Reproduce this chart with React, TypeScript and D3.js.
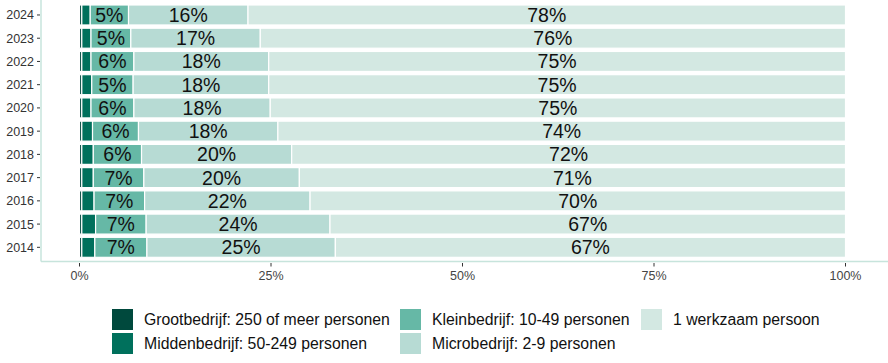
import React from "react";
import * as d3 from "d3";

// bedrijfsgrootte per jaar, aandeel in %
const years = ["2024", "2023", "2022", "2021", "2020", "2019", "2018", "2017", "2016", "2015", "2014"];
const groot = [0.3, 0.3, 0.3, 0.3, 0.3, 0.3, 0.3, 0.3, 0.3, 0.3, 0.3];
const midden = [1.1, 1.2, 1.2, 1.3, 1.2, 1.4, 1.5, 1.5, 1.6, 1.8, 1.7];
const klein = [5.0, 5.2, 5.6, 5.4, 5.6, 6.0, 6.3, 6.6, 6.6, 6.6, 6.8];
const micro = [15.6, 16.9, 17.6, 17.7, 17.8, 18.2, 19.6, 20.3, 21.6, 24.0, 24.6];
const single = [78.0, 76.4, 75.3, 75.3, 75.1, 74.1, 72.3, 71.3, 69.9, 67.3, 66.6];

const keys = ["groot", "midden", "klein", "micro", "single"];
const legendLabels = [
  "Grootbedrijf: 250 of meer personen",
  "Middenbedrijf: 50-249 personen",
  "Kleinbedrijf: 10-49 personen",
  "Microbedrijf: 2-9 personen",
  "1 werkzaam persoon",
];
const colors = ["#00493d", "#00705c", "#66b8a6", "#b7dbd4", "#d3e8e2"];
const labelled = ["klein", "micro", "single"];
const xTicks = [0, 25, 50, 75, 100];

const W = 888;
const H = 363;
const font = "'Liberation Sans', Arial, sans-serif";

export default function App() {
  const rows = years.map((y, i) => ({
    year: y,
    groot: groot[i],
    midden: midden[i],
    klein: klein[i],
    micro: micro[i],
    single: single[i],
  }));

  const series = d3.stack<any>().keys(keys)(rows);

  const x = d3.scaleLinear().domain([0, 100]).range([79.5, 845.5]);
  const y = d3
    .scaleBand<string>()
    .domain(years)
    .range([0.8, 261.5])
    .paddingInner(0.14)
    .paddingOuter(0.18);

  const color = d3.scaleOrdinal<string, string>().domain(keys).range(colors);

  const axisY = 261.5;
  const axisX = 41;

  // legend: column-major, 2 rows
  const legendCols = [112, 400, 641];
  const legendRows = [309, 333];

  return (
    <svg
      width={W}
      height={H}
      style={{ position: "absolute", left: 0, top: 0, background: "#fff" }}
    >
      {/* bars */}
      {series.map((s) => (
        <g key={s.key} fill={color(s.key)}>
          {s.map((d: any) => (
            <rect
              key={d.data.year}
              x={x(d[0])}
              y={y(d.data.year)}
              width={x(d[1]) - x(d[0])}
              height={y.bandwidth()}
              stroke="#fff"
              strokeWidth={1.2}
            />
          ))}
        </g>
      ))}

      {/* labels */}
      {series
        .filter((s) => labelled.includes(s.key))
        .map((s) => (
          <g key={"l" + s.key}>
            {s.map((d: any) => (
              <text
                key={d.data.year}
                x={x((d[0] + d[1]) / 2)}
                y={(y(d.data.year) as number) + y.bandwidth() / 2}
                dy="0.36em"
                textAnchor="middle"
                fontFamily={font}
                fontSize={19.5}
                fill="#111"
              >
                {Math.round(d[1] - d[0] + 1e-6) + "%"}
              </text>
            ))}
          </g>
        ))}

      {/* axes lines */}
      <line x1={axisX} x2={axisX} y1={0} y2={axisY} stroke="#c7e4dc" strokeWidth={1.5} />
      <line x1={axisX} x2={W} y1={axisY} y2={axisY} stroke="#c7e4dc" strokeWidth={1.5} />

      {/* y axis */}
      {years.map((yr) => {
        const cy = (y(yr) as number) + y.bandwidth() / 2;
        return (
          <g key={"y" + yr}>
            <line x1={37} x2={40} y1={cy} y2={cy} stroke="#333" strokeWidth={1} />
            <text
              x={34}
              y={cy}
              dy="0.36em"
              textAnchor="end"
              fontFamily={font}
              fontSize={12.5}
              fill="#333"
            >
              {yr}
            </text>
          </g>
        );
      })}

      {/* x axis */}
      {xTicks.map((t) => (
        <g key={"x" + t}>
          <line x1={x(t)} x2={x(t)} y1={axisY + 1.5} y2={axisY + 5} stroke="#333" strokeWidth={1} />
          <text
            x={x(t)}
            y={275}
            dy="0.36em"
            textAnchor="middle"
            fontFamily="'Liberation Sans Narrow', 'Liberation Sans', Arial, sans-serif"
            fontSize={12.5}
            fill="#444"
          >
            {t + "%"}
          </text>
        </g>
      ))}

      {/* legend */}
      {keys.map((k, i) => {
        const lx = legendCols[Math.floor(i / 2)];
        const ly = legendRows[i % 2];
        return (
          <g key={"leg" + k}>
            <rect x={lx} y={ly} width={21} height={21} fill={color(k)} />
            <text
              x={lx + 32}
              y={ly + 10.5}
              dy="0.36em"
              fontFamily={font}
              fontSize={15.8}
              fill="#111"
            >
              {legendLabels[i]}
            </text>
          </g>
        );
      })}
    </svg>
  );
}
